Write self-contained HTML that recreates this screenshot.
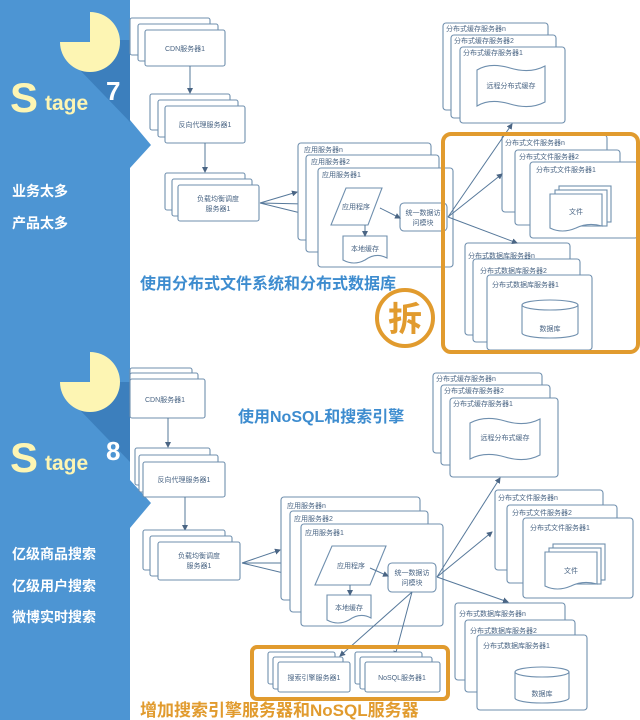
<!DOCTYPE html>
<html><head><meta charset="utf-8"><style>
body{margin:0;width:640px;height:720px;overflow:hidden;background:#fff;}
svg{display:block;font-family:"Liberation Sans","Noto Sans CJK SC",sans-serif;}
.b{fill:#fff;stroke:#6f8fae;stroke-width:1.1;}
.l{font-size:7px;fill:#4a6584;}
.a{stroke:#56789a;stroke-width:1;fill:none;marker-end:url(#ar);}
</style></head><body>
<svg width="640" height="720" viewBox="0 0 640 720" xmlns="http://www.w3.org/2000/svg">
<defs><marker id="ar" markerWidth="6" markerHeight="6" refX="5" refY="3" orient="auto"><path d="M0,0 L6,3 L0,6z" fill="#4a6584"/></marker></defs>
<!-- left panel -->
<rect x="0" y="0" width="130" height="720" fill="#4d95d3"/>
<polygon points="130,120 151,145 130,168" fill="#4d95d3"/>
<polygon points="130,480 151,503 130,528" fill="#4d95d3"/>
<polygon points="110,40 130,40 130,122 78,68" fill="#3c7fbd"/>
<polygon points="110,382 130,382 130,462 78,408" fill="#3c7fbd"/>
<path d="M90,42 L90,12 A30,30 0 1 1 60,42 Z" fill="#fdf5b3"/>
<path d="M90,382 L90,352 A30,30 0 1 1 60,382 Z" fill="#fdf5b3"/>
<g fill="#fdf5b3" font-weight="bold">
<text x="10" y="112" font-size="42">S</text><text x="45" y="110" font-size="21">tage</text>
<text x="10" y="472" font-size="42">S</text><text x="45" y="470" font-size="21">tage</text>
</g>
<g fill="#fff" font-weight="bold">
<text x="106" y="100" font-size="26">7</text><text x="106" y="460" font-size="26">8</text>
<text x="12" y="196" font-size="14">业务太多</text><text x="12" y="228" font-size="14">产品太多</text>
<text x="12" y="559" font-size="14">亿级商品搜索</text><text x="12" y="591" font-size="14">亿级用户搜索</text><text x="12" y="622" font-size="14">微博实时搜索</text>
</g>

<!-- ===== Stage 7 ===== -->
<rect class="b" x="130" y="18" width="80" height="37" rx="2"/><rect class="b" x="138" y="24" width="80" height="37" rx="2"/><rect class="b" x="145" y="30" width="80" height="36" rx="2"/>
<text class="l" x="185" y="51" text-anchor="middle">CDN服务器1</text>
<line class="a" x1="190" y1="66" x2="190" y2="93"/>
<rect class="b" x="150" y="94" width="80" height="36" rx="2"/><rect class="b" x="158" y="100" width="80" height="37" rx="2"/><rect class="b" x="165" y="106" width="80" height="37" rx="2"/>
<text class="l" x="205" y="127" text-anchor="middle">反向代理服务器1</text>
<line class="a" x1="205" y1="143" x2="205" y2="172"/>
<rect class="b" x="165" y="173" width="80" height="37" rx="2"/><rect class="b" x="172" y="179" width="80" height="37" rx="2"/><rect class="b" x="178" y="185" width="81" height="36" rx="2"/>
<text class="l" x="218" y="201" text-anchor="middle">负载均衡调度</text><text class="l" x="218" y="211" text-anchor="middle">服务器1</text>
<line class="a" x1="260" y1="203" x2="297" y2="192"/><line class="a" x1="260" y1="203" x2="305" y2="204"/><line class="a" x1="260" y1="203" x2="317" y2="217"/>
<rect class="b" x="298" y="143" width="133" height="97" rx="3"/><rect class="b" x="306" y="155" width="133" height="97" rx="3"/><rect class="b" x="318" y="168" width="135" height="99" rx="3"/>
<text class="l" x="304" y="152">应用服务器n</text><text class="l" x="311" y="164">应用服务器2</text><text class="l" x="322" y="177">应用服务器1</text>
<polygon class="b" points="346,188 382,188 368,225 331,225"/><text class="l" x="356" y="209" text-anchor="middle">应用程序</text>
<path class="b" d="M343,236 H387 V258 Q376,252 365,260 Q354,266 343,260 Z"/><text class="l" x="365" y="251" text-anchor="middle">本地缓存</text>
<line class="a" x1="365" y1="225" x2="365" y2="236"/>
<rect class="b" x="400" y="203" width="47" height="28" rx="4"/><text class="l" x="423" y="215" text-anchor="middle">统一数据访</text><text class="l" x="423" y="225" text-anchor="middle">问模块</text>
<line class="a" x1="380" y1="208" x2="400" y2="218"/>
<rect class="b" x="443" y="23" width="105" height="87" rx="3"/><rect class="b" x="451" y="35" width="105" height="83" rx="3"/><rect class="b" x="460" y="47" width="105" height="76" rx="3"/>
<text class="l" x="446" y="31">分布式缓存服务器n</text><text class="l" x="454" y="43">分布式缓存服务器2</text><text class="l" x="463" y="55">分布式缓存服务器1</text>
<path class="b" d="M477,70 Q490,62 510,68 Q530,74 545,66 V102 Q530,110 510,104 Q490,98 477,106 Z"/><text class="l" x="511" y="88" text-anchor="middle">远程分布式缓存</text>
<rect class="b" x="502" y="135" width="105" height="77" rx="3"/><rect class="b" x="515" y="150" width="105" height="75" rx="3"/><rect class="b" x="530" y="162" width="108" height="76" rx="3"/>
<text class="l" x="505" y="145">分布式文件服务器n</text><text class="l" x="519" y="159">分布式文件服务器2</text><text class="l" x="536" y="172">分布式文件服务器1</text>
<rect class="b" x="559" y="186" width="52" height="36"/><rect class="b" x="555" y="190" width="52" height="36"/>
<path class="b" d="M550,194 H602 V226 Q588,222 576,228 Q562,234 550,228 Z"/><text class="l" x="576" y="214" text-anchor="middle">文件</text>
<rect class="b" x="465" y="243" width="105" height="92" rx="3"/><rect class="b" x="473" y="259" width="107" height="83" rx="3"/><rect class="b" x="487" y="275" width="105" height="75" rx="3"/>
<text class="l" x="468" y="258">分布式数据库服务器n</text><text class="l" x="480" y="273">分布式数据库服务器2</text><text class="l" x="492" y="287">分布式数据库服务器1</text>
<path class="b" d="M522,305 V333 A28,5 0 0 0 578,333 V305"/><ellipse class="b" cx="550" cy="305" rx="28" ry="5"/><text class="l" x="550" y="331" text-anchor="middle">数据库</text>
<line class="a" x1="448" y1="217" x2="512" y2="124"/><line class="a" x1="448" y1="217" x2="502" y2="174"/><line class="a" x1="448" y1="217" x2="517" y2="243"/>
<rect x="443" y="134" width="195" height="218" rx="8" fill="none" stroke="#e19b2e" stroke-width="4"/>
<text x="140" y="289" font-size="16" font-weight="bold" fill="#3d8ccf">使用分布式文件系统和分布式数据库</text>
<circle cx="405" cy="318" r="28" fill="#fff" stroke="#e19b2e" stroke-width="4"/>
<text x="405" y="331" font-size="34" font-weight="bold" fill="#e19b2e" text-anchor="middle">拆</text>

<!-- ===== Stage 8 ===== -->
<rect class="b" x="130" y="368" width="62" height="37" rx="2"/><rect class="b" x="130" y="373" width="68" height="38" rx="2"/><rect class="b" x="130" y="379" width="75" height="39" rx="2"/>
<text class="l" x="165" y="402" text-anchor="middle">CDN服务器1</text>
<line class="a" x1="168" y1="418" x2="168" y2="447"/>
<rect class="b" x="135" y="448" width="75" height="37" rx="2"/><rect class="b" x="139" y="455" width="79" height="37" rx="2"/><rect class="b" x="143" y="462" width="82" height="35" rx="2"/>
<text class="l" x="184" y="482" text-anchor="middle">反向代理服务器1</text>
<line class="a" x1="185" y1="497" x2="185" y2="530"/>
<rect class="b" x="143" y="530" width="82" height="40" rx="2"/><rect class="b" x="150" y="536" width="82" height="40" rx="2"/><rect class="b" x="158" y="542" width="82" height="38" rx="2"/>
<text class="l" x="199" y="558" text-anchor="middle">负载均衡调度</text><text class="l" x="199" y="568" text-anchor="middle">服务器1</text>
<line class="a" x1="242" y1="563" x2="280" y2="550"/><line class="a" x1="242" y1="563" x2="290" y2="563"/><line class="a" x1="242" y1="563" x2="300" y2="577"/>
<text x="238" y="422" font-size="16" font-weight="bold" fill="#3d8ccf">使用NoSQL和搜索引擎</text>
<rect class="b" x="281" y="497" width="139" height="103" rx="3"/><rect class="b" x="290" y="511" width="138" height="101" rx="3"/><rect class="b" x="301" y="524" width="142" height="102" rx="3"/>
<text class="l" x="287" y="508">应用服务器n</text><text class="l" x="294" y="521">应用服务器2</text><text class="l" x="305" y="535">应用服务器1</text>
<polygon class="b" points="332,546 386,546 370,585 315,585"/><text class="l" x="351" y="568" text-anchor="middle">应用程序</text>
<path class="b" d="M327,595 H371 V618 Q360,612 349,620 Q338,626 327,620 Z"/><text class="l" x="349" y="610" text-anchor="middle">本地缓存</text>
<line class="a" x1="350" y1="585" x2="350" y2="595"/>
<rect class="b" x="388" y="563" width="48" height="29" rx="4"/><text class="l" x="412" y="575" text-anchor="middle">统一数据访</text><text class="l" x="412" y="585" text-anchor="middle">问模块</text>
<line class="a" x1="370" y1="568" x2="388" y2="576"/>
<rect class="b" x="433" y="373" width="109" height="80" rx="3"/><rect class="b" x="441" y="385" width="109" height="80" rx="3"/><rect class="b" x="450" y="398" width="108" height="79" rx="3"/>
<text class="l" x="436" y="381">分布式缓存服务器n</text><text class="l" x="444" y="393">分布式缓存服务器2</text><text class="l" x="453" y="406">分布式缓存服务器1</text>
<path class="b" d="M470,423 Q485,415 505,421 Q525,427 540,419 V455 Q525,463 505,457 Q485,451 470,459 Z"/><text class="l" x="505" y="440" text-anchor="middle">远程分布式缓存</text>
<rect class="b" x="495" y="490" width="108" height="80" rx="3"/><rect class="b" x="507" y="505" width="110" height="78" rx="3"/><rect class="b" x="523" y="518" width="110" height="80" rx="3"/>
<text class="l" x="498" y="500">分布式文件服务器n</text><text class="l" x="512" y="515">分布式文件服务器2</text><text class="l" x="530" y="530">分布式文件服务器1</text>
<rect class="b" x="553" y="544" width="52" height="36"/><rect class="b" x="549" y="548" width="52" height="36"/>
<path class="b" d="M545,552 H597 V584 Q583,580 571,586 Q557,592 545,586 Z"/><text class="l" x="571" y="573" text-anchor="middle">文件</text>
<rect class="b" x="455" y="603" width="110" height="77" rx="3"/><rect class="b" x="465" y="620" width="110" height="72" rx="3"/><rect class="b" x="477" y="635" width="110" height="75" rx="3"/>
<text class="l" x="459" y="616">分布式数据库服务器n</text><text class="l" x="470" y="633">分布式数据库服务器2</text><text class="l" x="483" y="648">分布式数据库服务器1</text>
<path class="b" d="M515,672 V698 A27,5 0 0 0 569,698 V672"/><ellipse class="b" cx="542" cy="672" rx="27" ry="5"/><text class="l" x="542" y="696" text-anchor="middle">数据库</text>
<line class="a" x1="437" y1="577" x2="500" y2="478"/><line class="a" x1="437" y1="577" x2="492" y2="532"/><line class="a" x1="437" y1="577" x2="508" y2="602"/>
<line class="a" x1="412" y1="592" x2="340" y2="656"/><line class="a" x1="412" y1="592" x2="395" y2="656"/>
<rect x="252" y="647" width="196" height="52" rx="5" fill="none" stroke="#e19b2e" stroke-width="4"/>
<rect class="b" x="268" y="652" width="67" height="32" rx="2"/><rect class="b" x="273" y="657" width="70" height="32" rx="2"/><rect class="b" x="278" y="662" width="72" height="30" rx="2"/>
<text class="l" x="314" y="680" text-anchor="middle">搜索引擎服务器1</text>
<rect class="b" x="355" y="652" width="67" height="32" rx="2"/><rect class="b" x="360" y="657" width="72" height="32" rx="2"/><rect class="b" x="365" y="662" width="75" height="30" rx="2"/>
<text class="l" x="402" y="680" text-anchor="middle">NoSQL服务器1</text>
<text x="140" y="716" font-size="17" font-weight="bold" fill="#e19b2e">增加搜索引擎服务器和NoSQL服务器</text>
</svg>
</body></html>
